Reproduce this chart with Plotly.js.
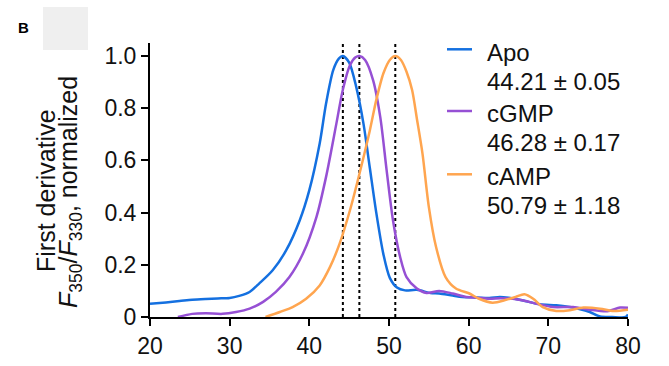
<!DOCTYPE html>
<html>
<head>
<meta charset="utf-8">
<script src="https://cdn.plot.ly/plotly-3.0.1.min.js"></script>
<style>html,body{margin:0;padding:0;background:#fff;}#chart{width:669px;height:366px;}</style>
</head>
<body>
<div id="chart"></div>
<script>
// Apo
const apoX = [20, 22, 23.7, 25.3, 27, 28.5, 30, 31.2, 32.5, 33.7, 35.4, 37.1, 38.8, 40.0, 41.3, 42.1, 43.0, 43.7, 44.2, 45.0, 45.9, 46.8, 47.6, 48.4, 49.3, 50.1, 51.0, 52.0, 53.5, 55.2, 56.3, 58, 59.2, 61, 62.6, 63.9, 65, 66.4, 68.9, 71.0, 72.7, 74, 75.2, 76.5, 78, 79.7, 80];
const apoY = [0.051, 0.056, 0.061, 0.066, 0.069, 0.071, 0.073, 0.081, 0.096, 0.128, 0.179, 0.256, 0.371, 0.486, 0.665, 0.818, 0.946, 0.99, 1.0, 0.975, 0.88, 0.74, 0.57, 0.40, 0.24, 0.15, 0.113, 0.102, 0.104, 0.092, 0.09, 0.082, 0.077, 0.075, 0.073, 0.077, 0.074, 0.066, 0.049, 0.045, 0.038, 0.03, 0.019, 0.002, 0.0, 0.0, 0.01];
// cGMP
const gmpX = [23.5, 25.3, 27.0, 29.1, 30.8, 32.5, 34.2, 35.8, 37.5, 39.2, 40.9, 42.1, 43.4, 44.2, 45.1, 45.8, 46.3, 47.0, 48.0, 48.9, 49.7, 50.5, 51.4, 52.2, 53.5, 54.7, 56.3, 58.0, 59.7, 61, 62.6, 64, 65.5, 67, 68.5, 70.6, 73.1, 75.2, 77.4, 79.0, 80];
const gmpY = [0.0, 0.012, 0.014, 0.012, 0.019, 0.032, 0.058, 0.096, 0.153, 0.243, 0.384, 0.537, 0.742, 0.87, 0.965, 0.995, 1.0, 0.985, 0.908, 0.767, 0.563, 0.371, 0.23, 0.153, 0.109, 0.092, 0.1, 0.09, 0.077, 0.074, 0.07, 0.072, 0.07, 0.062, 0.051, 0.038, 0.038, 0.028, 0.022, 0.036, 0.035];
// cAMP
const ampX = [34.5, 36.3, 37.9, 39.6, 41.3, 42.6, 43.8, 45.1, 46.3, 47.6, 48.4, 49.3, 50.1, 50.8, 51.5, 52.2, 52.9, 53.5, 54.2, 55.0, 55.9, 57.1, 58.4, 60.1, 61.3, 63.0, 64.7, 65.9, 67.0, 68.1, 69.3, 71.0, 72.7, 74.4, 76.5, 78.2, 80];
const ampY = [0.0, 0.019, 0.038, 0.07, 0.121, 0.192, 0.281, 0.409, 0.55, 0.716, 0.831, 0.934, 0.985, 1.0, 0.985, 0.94, 0.87, 0.76, 0.627, 0.422, 0.269, 0.153, 0.109, 0.09, 0.07, 0.055, 0.066, 0.077, 0.087, 0.07, 0.038, 0.023, 0.026, 0.036, 0.032, 0.023, 0.028];

const names = ["Apo", "cGMP", "cAMP"];
const tmLabels = ["44.21 ± 0.05", "46.28 ± 0.17", "50.79 ± 1.18"];
const peaks = [44.21, 46.28, 50.79];
const xTicks = [20, 30, 40, 50, 60, 70, 80];
const yTicks = [0, 0.2, 0.4, 0.6, 0.8, 1.0];
const yTickText = ["0", "0.2", "0.4", "0.6", "0.8", "1.0"];

const colors = ["#1470e0", "#9650d4", "#ffa54f"];
const FONT = "Liberation Sans, Arial, Helvetica, sans-serif";
const TXT = "#111";

// pixel -> paper helpers (plot area: left 150, right 628, top 43, bottom 317)
const L = 150, R = 628, T = 43, B = 317;
const px = v => (v - L) / (R - L);
const py = v => (B - v) / (B - T);

const series = [[apoX, apoY], [gmpX, gmpY], [ampX, ampY]];
const traces = series.map((s, i) => ({
  x: s[0], y: s[1], type: "scatter", mode: "lines", name: names[i],
  line: {color: colors[i], width: 2.5, shape: "spline", smoothing: 0.8},
  showlegend: false
}));

const shapes = peaks.map(p => ({
  type: "line", xref: "x", yref: "y", x0: p, x1: p, y0: 0, y1: 1.05,
  line: {color: "#000", width: 2, dash: "dot"}, layer: "below"
}));
shapes.push({
  type: "rect", xref: "paper", yref: "paper",
  x0: px(43), x1: px(88), y0: py(50), y1: py(7),
  fillcolor: "#efefef", line: {width: 0}
});

const annotations = [];
// legend (symbol lines + two text rows per series)
const legRow = [50.5, 111.5, 174.5];
const legLine = [49.3, 111, 174.3];
const legRow2 = [79, 140.5, 203.5];
names.forEach((n, i) => {
  shapes.push({type: "line", xref: "paper", yref: "paper",
    x0: px(447), x1: px(472), y0: py(legLine[i]), y1: py(legLine[i]),
    line: {color: colors[i], width: 2.5}});
  annotations.push({text: n, xref: "paper", yref: "paper", x: px(485), y: py(legRow[i] + 2),
    xanchor: "left", yanchor: "middle", showarrow: false,
    font: {family: FONT, size: 24, color: TXT}});
  annotations.push({text: tmLabels[i], xref: "paper", yref: "paper", x: px(485), y: py(legRow2[i] + 2),
    xanchor: "left", yanchor: "middle", showarrow: false,
    font: {family: FONT, size: 24, color: TXT}});
});
// y-axis title, two rows
annotations.push({text: "First derivative", xref: "paper", yref: "paper",
  x: px(46), y: py(191), xanchor: "center", yanchor: "middle", textangle: -90, showarrow: false,
  font: {family: FONT, size: 25, color: TXT}});
annotations.push({text: "<i>F</i><sub>350</sub>/<i>F</i><sub>330</sub>, normalized", xref: "paper", yref: "paper",
  x: px(70), y: py(192), xanchor: "center", yanchor: "middle", textangle: -90, showarrow: false,
  font: {family: FONT, size: 25, color: TXT}});
// panel letter
annotations.push({text: "B", xref: "paper", yref: "paper", x: px(23), y: py(27),
  xanchor: "center", yanchor: "middle", showarrow: false,
  font: {family: FONT, size: 15, color: "#000", weight: "bold"}});

const layout = {
  width: 669, height: 366,
  margin: {l: L, r: 669 - R, t: T, b: 366 - B},
  paper_bgcolor: "#fff", plot_bgcolor: "#fff",
  font: {family: FONT, size: 23, color: TXT},
  showlegend: false,
  xaxis: {
    range: [20, 80], tickvals: xTicks, ticktext: xTicks.map(String),
    showgrid: false, zeroline: false, showline: true, linecolor: "#000", linewidth: 2,
    ticks: "outside", ticklen: 7, tickwidth: 2, tickcolor: "#000",
    tickfont: {family: FONT, size: 23, color: TXT}
  },
  yaxis: {
    range: [0, 1.05], tickvals: yTicks, ticktext: yTickText,
    showgrid: false, zeroline: false, showline: true, linecolor: "#000", linewidth: 2,
    ticks: "outside", ticklen: 7, tickwidth: 2, tickcolor: "#000",
    tickfont: {family: FONT, size: 23, color: TXT}
  },
  shapes: shapes,
  annotations: annotations
};

Plotly.newPlot("chart", traces, layout, {displayModeBar: false, staticPlot: true});
</script>
</body>
</html>
